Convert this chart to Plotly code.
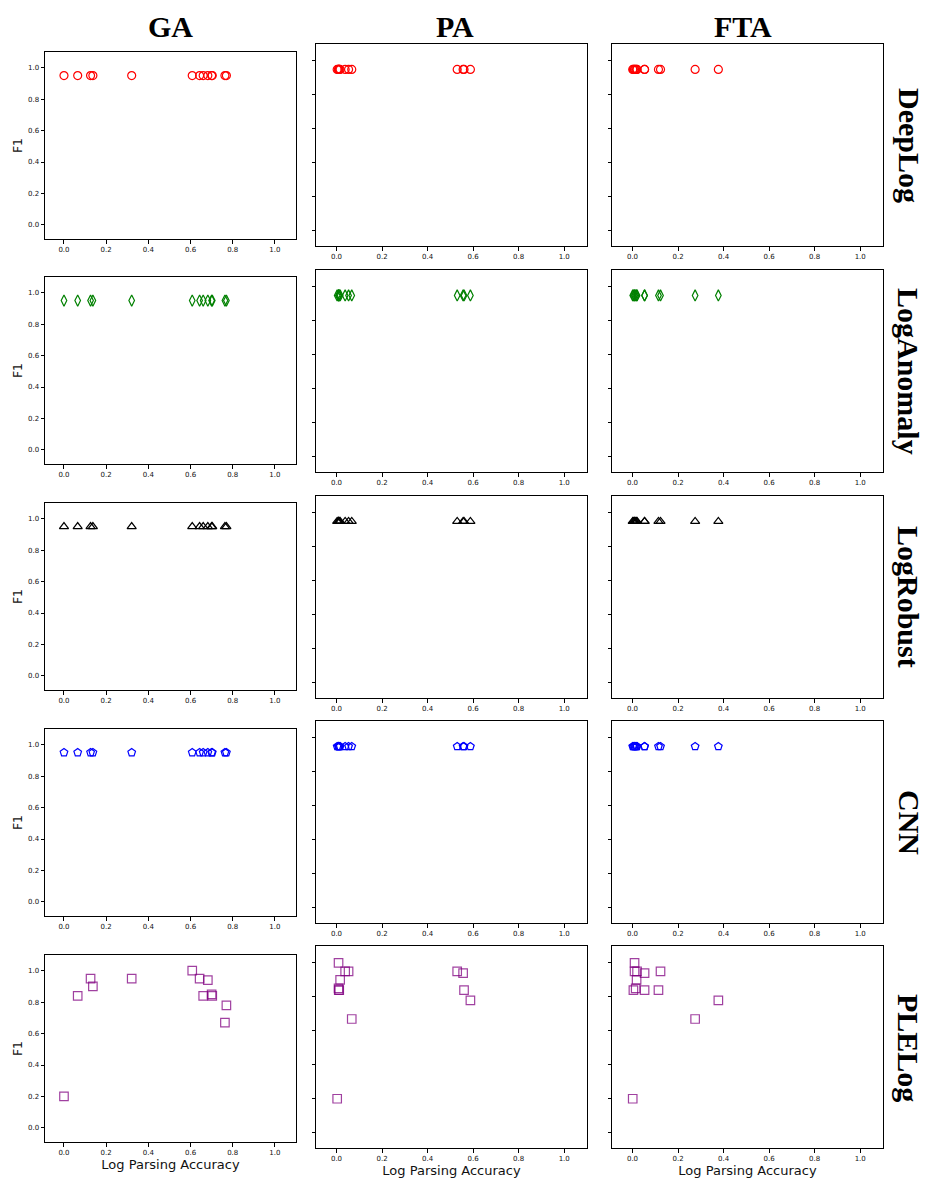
import plotly.graph_objects as go

# ---------------- data ----------------
metrics = ["GA", "PA", "FTA"]
models = ["DeepLog", "LogAnomaly", "LogRobust", "CNN", "PLELog"]

# log parsing accuracy per dataset, for each metric
ga_acc = [0.0, 0.065, 0.126, 0.137, 0.321, 0.608, 0.643, 0.66, 0.682, 0.70, 0.703, 0.763, 0.77]
pa_acc = [0.009, 0.038, 0.053, 0.016, 0.009, 0.01, 0.067, 0.003, 0.53, 0.556, 0.56, 0.588, 0.012]
fta_acc = [0.009, 0.009, 0.02, 0.053, 0.123, 0.018, 0.004, 0.014, 0.053, 0.114, 0.377, 0.275, 0.001]

# F1 per dataset for each model
deeplog_f1 = [0.95] * 13
loganomaly_f1 = [0.95] * 13
logrobust_f1 = [0.95] * 13
cnn_f1 = [0.95] * 13
plelog_f1_ga = [0.20, 0.84, 0.95, 0.90, 0.95, 1.0, 0.95, 0.84, 0.94, 0.85, 0.84, 0.67, 0.78]
plelog_f1_pa = [1.0, 0.95, 0.95, 0.90, 0.85, 0.84, 0.67, 0.20, 0.95, 0.94, 0.84, 0.78, 0.84]
plelog_f1_fta = [1.0, 0.95, 0.95, 0.94, 0.95, 0.90, 0.84, 0.85, 0.84, 0.84, 0.78, 0.67, 0.20]

x_ticks = [0.0, 0.2, 0.4, 0.6, 0.8, 1.0]
y_ticks = [0.0, 0.2, 0.4, 0.6, 0.8, 1.0]

acc_by_metric = {"GA": ga_acc, "PA": pa_acc, "FTA": fta_acc}
f1_by_model = {
    "DeepLog": {"GA": deeplog_f1, "PA": deeplog_f1, "FTA": deeplog_f1},
    "LogAnomaly": {"GA": loganomaly_f1, "PA": loganomaly_f1, "FTA": loganomaly_f1},
    "LogRobust": {"GA": logrobust_f1, "PA": logrobust_f1, "FTA": logrobust_f1},
    "CNN": {"GA": cnn_f1, "PA": cnn_f1, "FTA": cnn_f1},
    "PLELog": {"GA": plelog_f1_ga, "PA": plelog_f1_pa, "FTA": plelog_f1_fta},
}

styles = {
    "DeepLog": dict(symbol="circle-open", color="red", size=8, opacity=1.0),
    "LogAnomaly": dict(symbol="diamond-tall-open", color="green", size=8, opacity=1.0),
    "LogRobust": dict(symbol="triangle-up-open", color="black", size=8, opacity=1.0),
    "CNN": dict(symbol="pentagon-open", color="blue", size=8, opacity=1.0),
    "PLELog": dict(symbol="square-open", color="purple", size=8.5, opacity=0.75),
}

# ---------------- layout geometry (pixels, in page coordinates) ----------------
W, H = 930, 1186
OFF = 8  # the page body adds an 8px margin around the figure
col_x = {"GA": (45, 296), "PA": (316, 587), "FTA": (612, 883)}
ga_tops = [52, 277, 503, 729, 955]
other_tops = [44, 270, 496, 721, 946]
ga_h, other_h = 187, 202


def px(v):
    return (v - OFF) / W


def py(v):
    return 1 - (v - OFF) / H


fig = go.Figure()
layout_axes = {}
font_tick = dict(family="DejaVu Sans", size=7, color="#111")

idx = 0
for r, model in enumerate(models):
    for c, metric in enumerate(metrics):
        idx += 1
        xa = "x" if idx == 1 else f"x{idx}"
        ya = "y" if idx == 1 else f"y{idx}"
        x0, x1 = col_x[metric]
        if metric == "GA":
            top, h = ga_tops[r], ga_h
        else:
            top, h = other_tops[r], other_h
        bottom = top + h
        st = styles[model]
        fig.add_trace(go.Scatter(
            x=acc_by_metric[metric], y=f1_by_model[model][metric],
            mode="markers", xaxis=xa, yaxis=ya, showlegend=False,
            marker=dict(symbol=st["symbol"], size=st["size"], color=st["color"],
                        opacity=st["opacity"], line=dict(width=1.2, color=st["color"])),
        ))
        xkey = "xaxis" if idx == 1 else f"xaxis{idx}"
        ykey = "yaxis" if idx == 1 else f"yaxis{idx}"
        layout_axes[xkey] = dict(
            domain=[px(x0), px(x1)], anchor=ya, range=[-0.09, 1.1],
            tickvals=x_ticks, ticktext=[f"{v:.1f}" for v in x_ticks],
            ticks="outside", ticklen=3.5, tickwidth=1, tickcolor="black",
            showline=True, linecolor="black", linewidth=1, mirror=True,
            showgrid=False, zeroline=False, tickfont=font_tick,
            title=dict(text="Log Parsing Accuracy" if model == "PLELog" else "",
                       font=dict(family="DejaVu Sans", size=13, color="#111"), standoff=3),
        )
        layout_axes[ykey] = dict(
            domain=[py(bottom), py(top)], anchor=xa, range=[-0.09, 1.1],
            tickvals=y_ticks, ticktext=[f"{v:.1f}" for v in y_ticks],
            showticklabels=(metric == "GA"),
            ticks="outside", ticklen=3.5, tickwidth=1, tickcolor="black",
            showline=True, linecolor="black", linewidth=1, mirror=True,
            showgrid=False, zeroline=False, tickfont=font_tick,
            title=dict(text="F1" if metric == "GA" else "",
                       font=dict(family="DejaVu Sans", size=12.5, color="#111"), standoff=2),
        )

annotations = []
col_centers = {"GA": 170, "PA": 455, "FTA": 743}
for metric in metrics:
    annotations.append(dict(
        text=f"<b>{metric}</b>", x=px(col_centers[metric]), y=py(9),
        xref="paper", yref="paper", showarrow=False, xanchor="center", yanchor="top",
        borderpad=0, font=dict(family="Liberation Serif", size=30, color="black"),
    ))
row_centers = [145, 371, 597, 822, 1048]
for model, yc in zip(models, row_centers):
    annotations.append(dict(
        text=f"<b>{model}</b>", x=px(909), y=py(yc), textangle=90,
        xref="paper", yref="paper", showarrow=False, xanchor="center", yanchor="middle",
        font=dict(family="Liberation Serif", size=30, color="black"),
    ))

fig.update_layout(
    width=W, height=H, margin=dict(l=0, r=0, t=0, b=0),
    paper_bgcolor="white", plot_bgcolor="white",
    annotations=annotations, **layout_axes,
)

fig.write_html("out.html")
